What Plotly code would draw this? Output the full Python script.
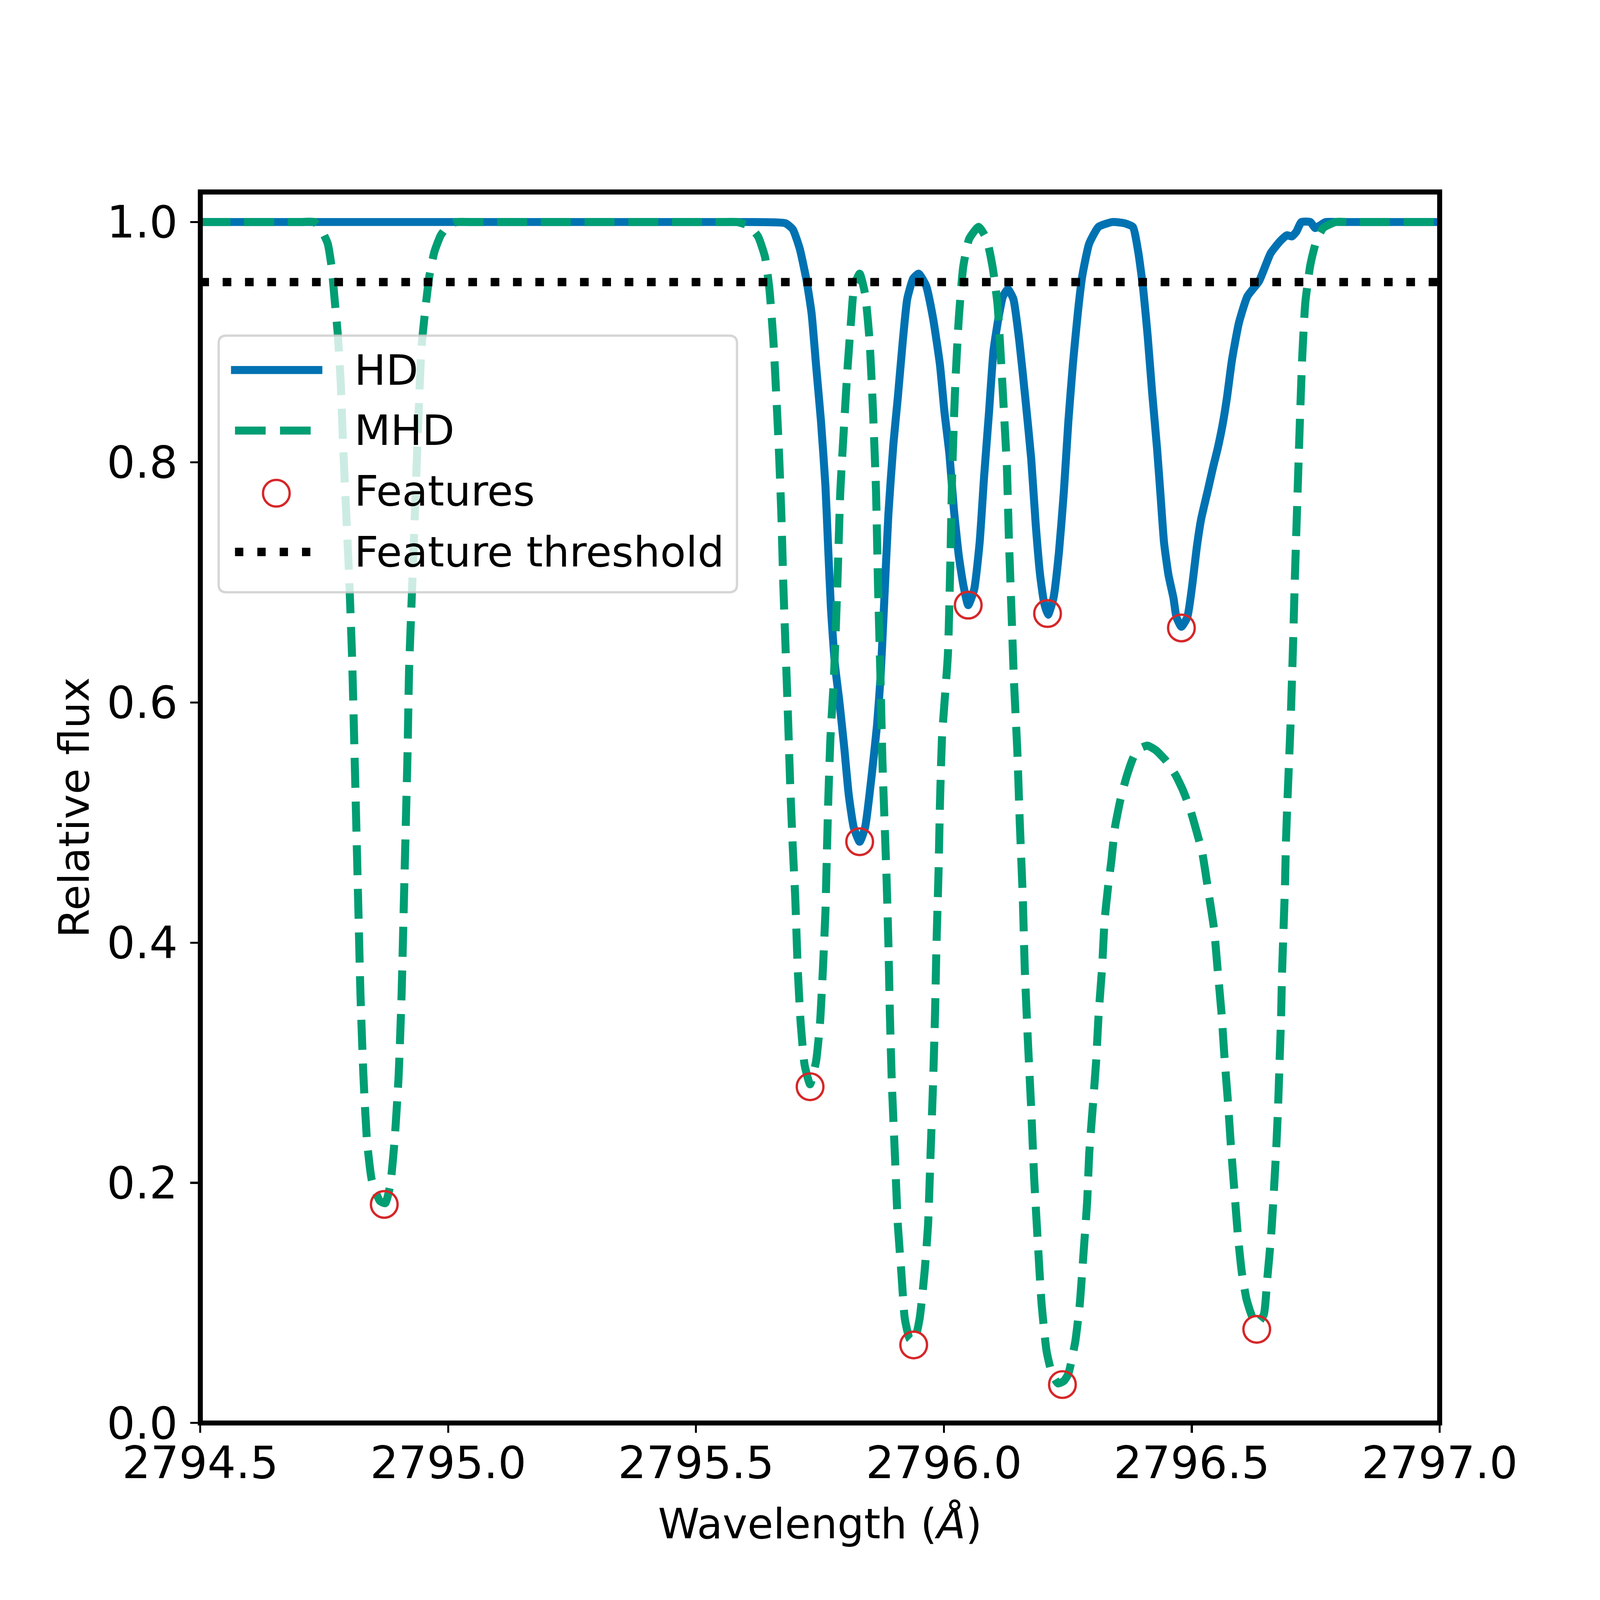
import plotly.graph_objects as go

# ---------------- data ----------------
HD_X = [2794.500, 2795.600, 2795.680, 2795.695, 2795.709, 2795.723, 2795.733, 2795.742,
        2795.752, 2795.761, 2795.766, 2795.772, 2795.780, 2795.789, 2795.799, 2795.808,
        2795.818, 2795.830, 2795.841, 2795.855, 2795.865, 2795.872, 2795.879, 2795.888,
        2795.898, 2795.907, 2795.917, 2795.926, 2795.938, 2795.949, 2795.964, 2795.978,
        2795.992, 2796.001, 2796.011, 2796.020, 2796.030, 2796.039, 2796.049, 2796.061,
        2796.072, 2796.081, 2796.091, 2796.100, 2796.110, 2796.119, 2796.129, 2796.140,
        2796.152, 2796.164, 2796.176, 2796.185, 2796.194, 2796.202, 2796.210, 2796.221,
        2796.232, 2796.242, 2796.251, 2796.260, 2796.270, 2796.279, 2796.293, 2796.312,
        2796.340, 2796.364, 2796.381, 2796.392, 2796.402, 2796.411, 2796.420, 2796.430,
        2796.437, 2796.444, 2796.453, 2796.463, 2796.469, 2796.479, 2796.491, 2796.501,
        2796.510, 2796.519, 2796.532, 2796.543, 2796.552, 2796.562, 2796.571, 2796.581,
        2796.595, 2796.612, 2796.636, 2796.659, 2796.678, 2796.692, 2796.702, 2796.711,
        2796.721, 2796.739, 2796.749, 2796.758, 2796.770, 2796.800, 2797.000]
HD_Y = [1.000, 1.000, 0.999, 0.994, 0.978, 0.951, 0.924, 0.881,
        0.834, 0.780, 0.733, 0.679, 0.632, 0.601, 0.562, 0.523,
        0.496, 0.484, 0.496, 0.542, 0.581, 0.620, 0.679, 0.757,
        0.815, 0.854, 0.901, 0.936, 0.953, 0.957, 0.947, 0.920,
        0.881, 0.842, 0.807, 0.761, 0.722, 0.698, 0.681, 0.694,
        0.733, 0.788, 0.842, 0.893, 0.920, 0.938, 0.944, 0.936,
        0.901, 0.854, 0.803, 0.749, 0.706, 0.683, 0.673, 0.687,
        0.725, 0.776, 0.834, 0.881, 0.924, 0.955, 0.982, 0.996,
        1.000, 0.999, 0.996, 0.975, 0.944, 0.905, 0.858, 0.811,
        0.772, 0.733, 0.706, 0.687, 0.671, 0.663, 0.671, 0.698,
        0.729, 0.753, 0.776, 0.796, 0.811, 0.831, 0.854, 0.885,
        0.916, 0.938, 0.951, 0.974, 0.984, 0.989, 0.988, 0.992,
        1.000, 1.000, 0.995, 0.997, 1.000, 1.000, 1.000]

MHD_X = [2794.500, 2794.700, 2794.730, 2794.746, 2794.757, 2794.765, 2794.771, 2794.777, 2794.783,
         2794.788, 2794.794, 2794.800, 2794.806, 2794.811, 2794.815, 2794.819, 2794.823,
         2794.829, 2794.836, 2794.846, 2794.862, 2794.873, 2794.883, 2794.892, 2794.900,
         2794.906, 2794.910, 2794.914, 2794.918, 2794.921, 2794.927, 2794.933, 2794.939,
         2794.946, 2794.954, 2794.962, 2794.972, 2794.985, 2795.000, 2795.016, 2795.050,
         2795.550, 2795.582,
         2795.606, 2795.625, 2795.639, 2795.648, 2795.656, 2795.662, 2795.667, 2795.672,
         2795.676, 2795.681, 2795.686, 2795.690, 2795.695, 2795.700, 2795.705, 2795.711,
         2795.719, 2795.730, 2795.742, 2795.750, 2795.756, 2795.761, 2795.764, 2795.767,
         2795.771, 2795.778, 2795.785, 2795.791, 2795.799, 2795.806, 2795.813, 2795.819,
         2795.830, 2795.841, 2795.850, 2795.857, 2795.863, 2795.867, 2795.872, 2795.876,
         2795.884, 2795.888, 2795.891, 2795.895, 2795.901, 2795.907, 2795.914, 2795.921,
         2795.931, 2795.940, 2795.951, 2795.961, 2795.968, 2795.973, 2795.978, 2795.982,
         2795.985, 2795.989, 2795.992, 2795.996, 2796.008, 2796.013, 2796.017, 2796.023,
         2796.030, 2796.039, 2796.051, 2796.070, 2796.086, 2796.098, 2796.108, 2796.114,
         2796.121, 2796.127, 2796.131, 2796.136, 2796.141, 2796.148, 2796.153, 2796.159,
         2796.163, 2796.169, 2796.176, 2796.182, 2796.190, 2796.197, 2796.207, 2796.218,
         2796.230, 2796.242, 2796.251, 2796.265, 2796.274, 2796.281, 2796.289, 2796.293,
         2796.300, 2796.307, 2796.312, 2796.319, 2796.324, 2796.331, 2796.338, 2796.345,
         2796.356, 2796.369, 2796.383, 2796.397, 2796.411, 2796.428, 2796.449, 2796.468,
         2796.482, 2796.496, 2796.508, 2796.521, 2796.534, 2796.545, 2796.552, 2796.560,
         2796.566, 2796.573, 2796.579, 2796.586, 2796.593, 2796.601, 2796.611, 2796.629,
         2796.645, 2796.652, 2796.660, 2796.665, 2796.670, 2796.674, 2796.677, 2796.680,
         2796.682, 2796.685, 2796.688, 2796.690, 2796.693, 2796.699, 2796.704, 2796.708,
         2796.713, 2796.718, 2796.723, 2796.729, 2796.739, 2796.751, 2796.765, 2796.790,
         2796.820, 2797.000]
MHD_Y = [1.000, 1.000, 1.000, 0.992, 0.982, 0.962, 0.935, 0.908, 0.868,
         0.814, 0.760, 0.706, 0.639, 0.558, 0.491, 0.424, 0.357,
         0.289, 0.236, 0.202, 0.185, 0.183, 0.198, 0.236, 0.289,
         0.357, 0.424, 0.491, 0.558, 0.626, 0.693, 0.760, 0.827,
         0.895, 0.928, 0.955, 0.975, 0.989, 0.997, 1.000, 1.000,
         1.000, 1.000,
         0.997, 0.988, 0.971, 0.944, 0.901, 0.854, 0.811, 0.757,
         0.698, 0.640, 0.581, 0.530, 0.480, 0.438, 0.379, 0.333,
         0.298, 0.282, 0.301, 0.333, 0.379, 0.426, 0.477, 0.523,
         0.570, 0.620, 0.698, 0.776, 0.834, 0.881, 0.920, 0.947,
         0.957, 0.940, 0.901, 0.842, 0.776, 0.698, 0.620, 0.550,
         0.457, 0.399, 0.340, 0.282, 0.224, 0.165, 0.126, 0.087,
         0.070, 0.068, 0.087, 0.126, 0.165, 0.224, 0.282, 0.340,
         0.399, 0.457, 0.516, 0.570, 0.640, 0.718, 0.796, 0.866,
         0.920, 0.963, 0.986, 0.996, 0.986, 0.963, 0.932, 0.893,
         0.842, 0.796, 0.737, 0.679, 0.620, 0.560, 0.500, 0.438,
         0.379, 0.321, 0.262, 0.204, 0.146, 0.099, 0.060, 0.041,
         0.033, 0.035, 0.041, 0.068, 0.099, 0.138, 0.185, 0.224,
         0.262, 0.301, 0.340, 0.379, 0.418, 0.446, 0.469, 0.496,
         0.519, 0.539, 0.555, 0.562, 0.564, 0.560, 0.551, 0.539,
         0.527, 0.512, 0.495, 0.475, 0.441, 0.411, 0.378, 0.341,
         0.304, 0.267, 0.230, 0.193, 0.156, 0.125, 0.102, 0.082,
         0.090, 0.119, 0.156, 0.189, 0.226, 0.263, 0.300, 0.337,
         0.374, 0.411, 0.448, 0.485, 0.519, 0.580, 0.645, 0.705,
         0.770, 0.834, 0.890, 0.933, 0.964, 0.984, 0.995, 1.000,
         1.000, 1.000]

FEATURE_X = [2794.871, 2795.730, 2795.830, 2795.939, 2796.049, 2796.209, 2796.239, 2796.479, 2796.631]
FEATURE_Y = [0.182, 0.280, 0.484, 0.065, 0.681, 0.674, 0.032, 0.662, 0.078]

THRESHOLD = 0.95
X_RANGE = [2794.5, 2797.0]
Y_RANGE = [0.0, 1.025]
X_TICKS = [2794.5, 2795.0, 2795.5, 2796.0, 2796.5, 2797.0]
Y_TICKS = [0.0, 0.2, 0.4, 0.6, 0.8, 1.0]
LEGEND_LABELS = ["HD", "MHD", "Features", "Feature threshold"]

# ---------------- styles ----------------
W = H = 4800
BLUE = "#0072B2"
GREEN = "#009E73"
RED = "#d62728"
FONT = "DejaVu Sans"
LW = 24
DASH = "90px,41px"
DOT = "26px,41px"

fig = go.Figure()
fig.add_trace(go.Scatter(x=HD_X, y=HD_Y, mode="lines", name=LEGEND_LABELS[0],
                         line=dict(color=BLUE, width=LW, shape="spline", smoothing=0.5),
                         showlegend=False))
fig.add_trace(go.Scatter(x=MHD_X, y=MHD_Y, mode="lines", name=LEGEND_LABELS[1],
                         line=dict(color=GREEN, width=LW, dash=DASH, shape="spline", smoothing=0.5),
                         showlegend=False))
fig.add_trace(go.Scatter(x=X_RANGE, y=[THRESHOLD, THRESHOLD], mode="lines", name=LEGEND_LABELS[3],
                         line=dict(color="black", width=25, dash=DOT), showlegend=False))
fig.add_trace(go.Scatter(x=FEATURE_X, y=FEATURE_Y, mode="markers", name=LEGEND_LABELS[2],
                         marker=dict(symbol="circle-open", size=80, color=RED,
                                     line=dict(width=7, color=RED)),
                         showlegend=False, cliponaxis=False))

# ---------------- manual legend (matplotlib style) ----------------
x0, x1, yt, yb = 0.01479, 0.43303, 0.88331, 0.67483
rx, ry = 0.00619, 0.00623
box = (f"M{x0+rx},{yt} L{x1-rx},{yt} Q{x1},{yt} {x1},{yt-ry} L{x1},{yb+ry} "
       f"Q{x1},{yb} {x1-rx},{yb} L{x0+rx},{yb} Q{x0},{yb} {x0},{yb+ry} "
       f"L{x0},{yt-ry} Q{x0},{yt} {x0+rx},{yt} Z")
shapes = [
    dict(type="rect", xref="paper", yref="paper", x0=0, x1=1, y0=0, y1=1,
         line=dict(color="black", width=15), fillcolor="rgba(0,0,0,0)", layer="above"),
    dict(type="path", xref="paper", yref="paper", path=box, layer="above",
         fillcolor="rgba(255,255,255,0.8)", line=dict(color="rgba(204,204,204,0.8)", width=7)),
]
row_y = [0.8554, 0.8062, 0.7572, 0.7076]
shapes.append(dict(type="line", xref="paper", yref="paper", x0=0.02474, x1=0.09844,
                   y0=row_y[0], y1=row_y[0], layer="above", line=dict(color=BLUE, width=LW)))
shapes.append(dict(type="line", xref="paper", yref="paper", x0=0.02797, x1=0.09575,
                   y0=row_y[1], y1=row_y[1], layer="above",
                   line=dict(color=GREEN, width=LW, dash="92px,43px")))
shapes.append(dict(type="circle", xref="paper", yref="paper", xsizemode="pixel", ysizemode="pixel",
                   xanchor=0.06132, yanchor=0.7553, x0=-40, x1=40, y0=-40, y1=40, layer="above",
                   line=dict(color=RED, width=7), fillcolor="rgba(0,0,0,0)"))
shapes.append(dict(type="line", xref="paper", yref="paper", x0=0.02797, x1=0.09575,
                   y0=row_y[3], y1=row_y[3], layer="above",
                   line=dict(color="black", width=25, dash="25px,42px")))

annotations = [dict(text=lab, xref="paper", yref="paper", x=0.1237, y=yy, xanchor="left",
                    yanchor="middle", showarrow=False, font=dict(family=FONT, size=126, color="black"))
               for lab, yy in zip(LEGEND_LABELS, row_y)]

fig.update_layout(
    width=W, height=H,
    margin=dict(l=601, r=481, t=576, b=531),
    paper_bgcolor="white", plot_bgcolor="white",
    font=dict(family=FONT, color="black"),
    shapes=shapes, annotations=annotations,
    showlegend=False,
)
fig.update_xaxes(range=X_RANGE, tickvals=X_TICKS, ticktext=[f"{v:.1f}" for v in X_TICKS],
                 ticks="outside", ticklen=29, tickwidth=6, tickcolor="black",
                 showgrid=False, zeroline=False, showline=False, ticklabelstandoff=-25,
                 tickfont=dict(family=FONT, size=134, color="black"),
                 title=dict(text="Wavelength (<i>Å</i>)", font=dict(family=FONT, size=126), standoff=60))
fig.update_yaxes(range=Y_RANGE, tickvals=Y_TICKS, ticktext=[f"{v:.1f}" for v in Y_TICKS],
                 ticks="outside", ticklen=29, tickwidth=6, tickcolor="black",
                 showgrid=False, zeroline=False, showline=False, ticklabelstandoff=11,
                 tickfont=dict(family=FONT, size=134, color="black"),
                 title=dict(text="Relative flux", font=dict(family=FONT, size=126), standoff=10))

# fit the fixed-size 4800px figure exactly into whatever CSS viewport the browser has
FIT_JS = """
document.documentElement.style.margin = '0';
document.body.style.margin = '0';
document.body.style.overflow = 'hidden';
var gd = document.getElementById('{plot_id}');
var s = Math.min(window.innerWidth, window.innerHeight) / %d;
gd.style.transformOrigin = '0 0';
gd.style.transform = 'scale(' + s + ')';
""" % W

fig.write_html("out.html", post_script=FIT_JS, config={"displayModeBar": False})
